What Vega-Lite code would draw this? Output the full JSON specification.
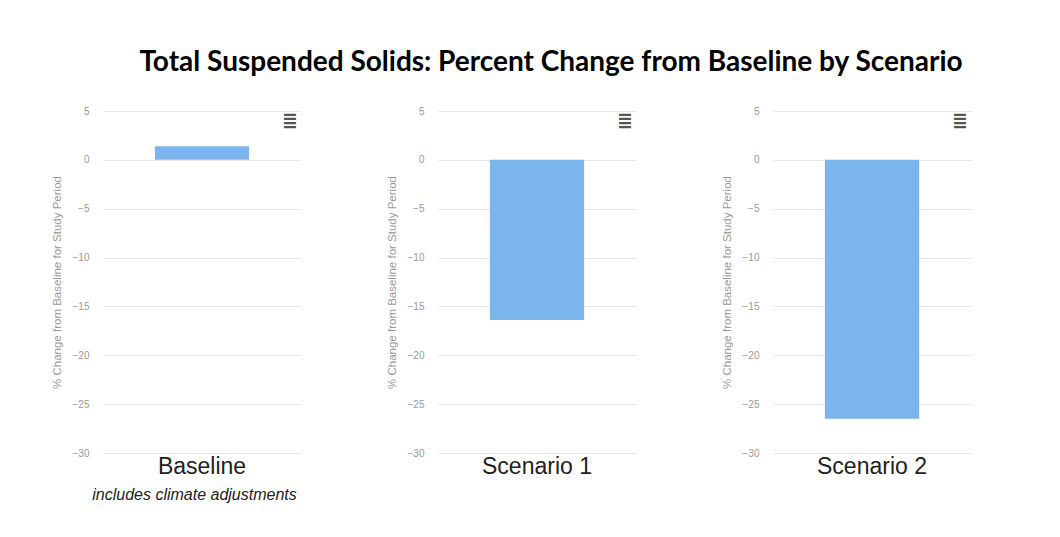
{
  "$schema": "https://vega.github.io/schema/vega-lite/v6.json",
  "padding": {"left": 51, "top": 49, "right": 5, "bottom": 5},
  "background": "white",
  "title": {
    "text": "Total Suspended Solids: Percent Change from Baseline by Scenario",
    "font": "Lato",
    "fontSize": 28,
    "fontWeight": "bold",
    "color": "#000000",
    "anchor": "middle",
    "dx": 40,
    "offset": 29
  },
  "spacing": 85,
  "hconcat": [
    {
      "width": 198,
      "height": 342,
      "data": {"values": [{"scenario": "Baseline", "change": 1.4}]},
      "layer": [
        {
          "mark": {"type": "bar", "color": "#7cb5ec"},
          "encoding": {
            "x": {
              "field": "scenario", "type": "nominal",
              "scale": {"paddingInner": 0, "paddingOuter": 0.55},
              "axis": {"title": "includes climate adjustments", "titleFontStyle": "italic", "titleFontSize": 16, "titleFontWeight": "normal", "titleColor": "#222222", "titlePadding": 8, "titleX": 91}
            },
            "y": {
              "field": "change", "type": "quantitative",
              "scale": {"domain": [-30, 5], "nice": false},
              "axis": {"title": "% Change from Baseline for Study Period"}
            }
          }
        },
        {
          "mark": {"type": "text", "text": "≣", "dx": 88, "fontSize": 19, "fontWeight": "bold", "color": "#555555", "baseline": "middle", "font": "DejaVu Sans"},
          "encoding": {
            "x": {"field": "scenario", "type": "nominal"},
            "y": {"datum": 4}
          }
        }
      ]
    },
    {
      "width": 198,
      "height": 342,
      "data": {"values": [{"scenario": "Scenario 1", "change": -16.4}]},
      "layer": [
        {
          "mark": {"type": "bar", "color": "#7cb5ec"},
          "encoding": {
            "x": {
              "field": "scenario", "type": "nominal",
              "scale": {"paddingInner": 0, "paddingOuter": 0.55},
              "axis": {"title": null}
            },
            "y": {
              "field": "change", "type": "quantitative",
              "scale": {"domain": [-30, 5], "nice": false},
              "axis": {"title": "% Change from Baseline for Study Period"}
            }
          }
        },
        {
          "mark": {"type": "text", "text": "≣", "dx": 88, "fontSize": 19, "fontWeight": "bold", "color": "#555555", "baseline": "middle", "font": "DejaVu Sans"},
          "encoding": {
            "x": {"field": "scenario", "type": "nominal"},
            "y": {"datum": 4}
          }
        }
      ]
    },
    {
      "width": 198,
      "height": 342,
      "data": {"values": [{"scenario": "Scenario 2", "change": -26.5}]},
      "layer": [
        {
          "mark": {"type": "bar", "color": "#7cb5ec"},
          "encoding": {
            "x": {
              "field": "scenario", "type": "nominal",
              "scale": {"paddingInner": 0, "paddingOuter": 0.55},
              "axis": {"title": null}
            },
            "y": {
              "field": "change", "type": "quantitative",
              "scale": {"domain": [-30, 5], "nice": false},
              "axis": {"title": "% Change from Baseline for Study Period"}
            }
          }
        },
        {
          "mark": {"type": "text", "text": "≣", "dx": 88, "fontSize": 19, "fontWeight": "bold", "color": "#555555", "baseline": "middle", "font": "DejaVu Sans"},
          "encoding": {
            "x": {"field": "scenario", "type": "nominal"},
            "y": {"datum": 4}
          }
        }
      ]
    }
  ],
  "config": {
    "font": "Liberation Sans",
    "view": {"stroke": null},
    "axisY": {
      "values": [5, 0, -5, -10, -15, -20, -25, -30],
      "grid": true,
      "gridColor": "#e6e6e6",
      "gridWidth": 1,
      "domain": false,
      "ticks": false,
      "labelColor": "#999999",
      "labelFontSize": 10,
      "labelPadding": 14,
      "titleColor": "#999999",
      "titleFontSize": 11.5,
      "titleFontWeight": "normal",
      "titlePadding": 10,
      "minExtent": 31,
      "maxExtent": 31
    },
    "axisX": {
      "domain": false,
      "ticks": false,
      "grid": false,
      "labelAngle": 0,
      "labelFontSize": 23,
      "labelColor": "#222222",
      "labelPadding": 2,
      "labelDx": -6
    }
  }
}
